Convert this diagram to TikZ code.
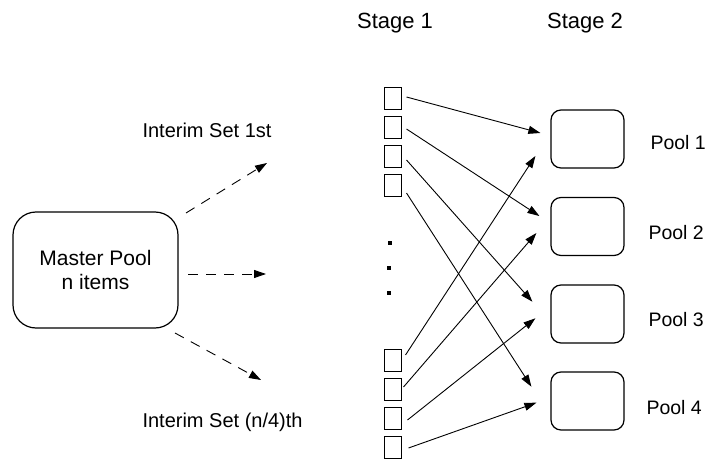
\documentclass[tikz,border=0pt]{standalone}
\usepackage{fontspec}
\setmainfont{Liberation Sans}
\usetikzlibrary{arrows.meta,calc}
\begin{document}
\begin{tikzpicture}[x=1pt,y=-1pt,
  every node/.style={font=\fontsize{20}{24}\selectfont},
  head/.style={font=\fontsize{22}{26}\selectfont},
  poolname/.style={anchor=base west, font=\fontsize{19.5}{24}\selectfont},
  slot/.style={draw, line width=1pt, minimum width=17pt, minimum height=22pt, inner sep=0pt},
  poolbox/.style={draw, line width=1.2pt, rounded corners=10pt, minimum width=73pt, minimum height=58pt, inner sep=0pt},
  masterbox/.style={draw, line width=1.2pt, rounded corners=23pt, minimum width=165pt, minimum height=116pt, inner sep=0pt, align=center, font=\fontsize{21}{24}\selectfont},
  link/.style={line width=0.9pt, -{Triangle[length=12pt,width=8pt]}},
  feed/.style={link, dash pattern=on 10pt off 8pt},
  dotmark/.style={fill, minimum size=4pt, inner sep=0pt},
]
\useasboundingbox (0,0) rectangle (707,460);

% column headings
\node[head, anchor=base] (s1) at (395,29) {Stage 1};
\node[head, anchor=base] (s2) at (585,29) {Stage 2};

% master pool and the split into interim sets
\node[masterbox] (master) at (95.5,270) {Master Pool\\n items};
\node[anchor=base west] (i1) at (139,137) {Interim Set 1st};
\node[anchor=base west] (i2) at (139,427) {Interim Set (n/4)th};

\coordinate (f1s) at (186,213); \coordinate (f1e) at (267,163);
\coordinate (f2s) at (188,274); \coordinate (f2e) at (266,274);
\coordinate (f3s) at (175,333); \coordinate (f3e) at (261,380);
\draw[feed] (f1s) -- (f1e);
\draw[feed] (f2s) -- (f2e);
\draw[feed] (f3s) -- (f3e);

% stage 1 slots
\foreach \k in {1,...,4} {
  \node[slot] (t\k) at (392.5,69.5+29*\k) {};
  \node[slot] (b\k) at (392.5,331+29*\k) {};
}
\node[dotmark] (d1) at (390,243) {};
\node[dotmark] (d2) at (389,268) {};
\node[dotmark] (d3) at (389,293) {};

% stage 2 pools
\node[poolbox] (p1) at (587.5,139) {};
\node[poolbox] (p2) at (587.5,226.5) {};
\node[poolbox] (p3) at (587.5,314) {};
\node[poolbox] (p4) at (587.5,401) {};
\node[poolname] (l1) at (647,149) {Pool 1};
\node[poolname] (l2) at (645,239) {Pool 2};
\node[poolname] (l3) at (645,326) {Pool 3};
\node[poolname] (l4) at (643,414) {Pool 4};

% slot-to-pool routing
\draw[link] ($(t1.east)+(5,-1.5)$) -- ($(p1.west)+(-10,-6)$);
\draw[link] ($(t2.east)+(5,1.5)$) -- ($(p2.west)+(-11,-10.5)$);
\draw[link] ($(t3.east)+(5,3.5)$) -- ($(p3.west)+(-18,-12.3)$);
\draw[link] ($(t4.east)+(5,7.5)$) -- ($(p4.west)+(-19,-14.3)$);
\draw[link] ($(b1.east)+(4,-5)$) -- ($(p1.west)+(-15,17)$);
\draw[link] ($(b2.east)+(2,-2)$) -- ($(p2.west)+(-14,6.5)$);
\draw[link] ($(b3.east)+(6,2)$) -- ($(p3.west)+(-15,4.3)$);
\draw[link] ($(b4.east)+(7,1)$) -- ($(p4.west)+(-14,1.7)$);
\end{tikzpicture}
\end{document}
